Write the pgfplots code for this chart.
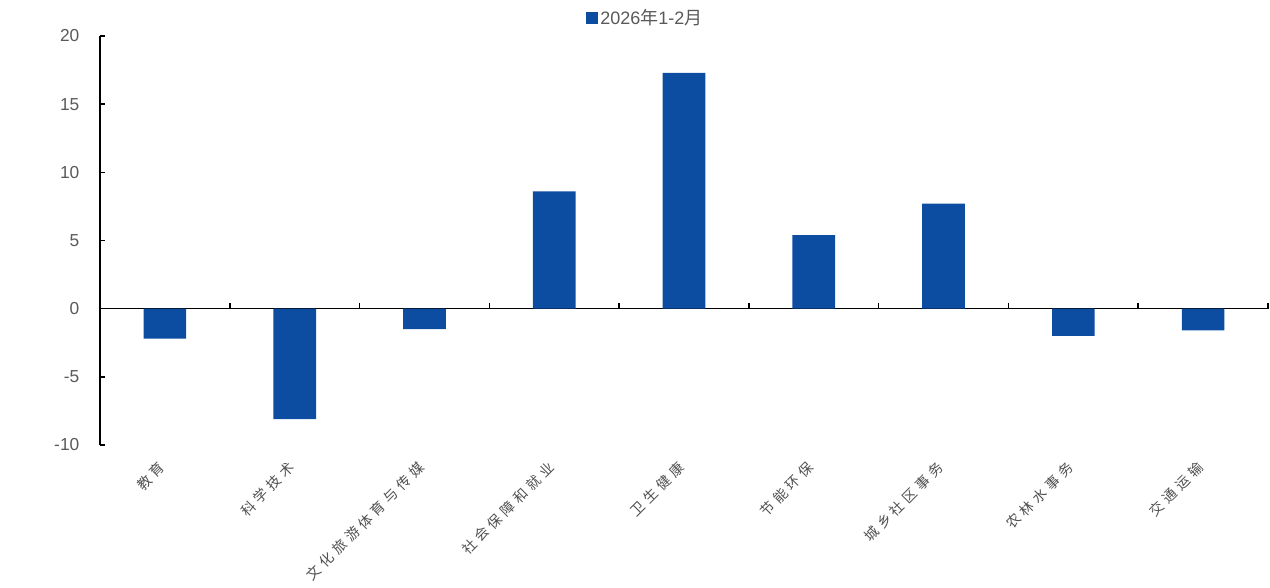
\documentclass[border=0pt]{standalone}
\usepackage{pgfplots}
\pgfplotsset{compat=1.18}
\usepackage{fontspec}
\setmainfont{Liberation Sans}
\newfontfamily\cjk{Noto Sans CJK SC}
\newfontfamily\cjkspaced[LetterSpace=30]{Noto Sans CJK SC}
\definecolor{barblue}{HTML}{0C4DA2}
\definecolor{ticktext}{HTML}{595959}
\definecolor{cattext}{HTML}{505050}

\begin{document}
\begin{tikzpicture}
\begin{axis}[
  at={(0pt,0pt)}, anchor=south west,
  scale only axis, width=876pt, height=306.75pt,
  xmin=-0.5, xmax=8.5, ymin=-10, ymax=20,
  axis y line=left, axis x line=middle,
  axis line style={-, black, line width=1.1pt},
  ybar, bar width=32pt,
  ytick={-10,-5,0,5,10,15,20},
  yticklabels={-10,-5,0,5,10,15,20},
  xtick={0,...,8},
  xticklabels={教育,科学技术,文化旅游体育与传媒,社会保障和就业,卫生健康,节能环保,城乡社区事务,农林水事务,交通运输},
  minor xtick={0.5,1.5,2.5,3.5,4.5,5.5,6.5,7.5,8.5},
  every major x tick/.style={draw=none},
  tick align=inside,
  major tick length=4pt, minor tick length=4pt,
  tick style={black, line width=1.1pt},
  hide obscured y ticks=false,
  hide obscured x ticks=false,
  yticklabel style={font=\fontsize{13pt}{13pt}\selectfont, text=ticktext, xshift=-12pt},
  xticklabel style={font=\cjkspaced\fontsize{10.5pt}{10.5pt}\selectfont, text=cattext,
    yshift=-117pt, xshift=-2pt, rotate=45, anchor=east, inner sep=0pt},
  legend style={at={(axis description cs:0.467,1.044)}, anchor=center,
    draw=none, fill=none, font=\fontsize{13.5pt}{13.5pt}\selectfont, text=ticktext,
    inner sep=0pt, legend cell align=left},
  legend image code/.code={\fill[barblue] (0pt,-4.5pt) rectangle (9pt,4.5pt);},
]
\addplot[fill=barblue, draw=none] coordinates {
  (0,-2.2) (1,-8.1) (2,-1.5) (3,8.6) (4,17.3) (5,5.4) (6,7.7) (7,-2.0) (8,-1.6)
};
\addlegendentry{2026{\cjk 年}1-2{\cjk 月}}
\node[text=ticktext, font=\fontsize{13pt}{13pt}\selectfont]
  at (axis description cs:-0.072,0.452) {\%};
\end{axis}
\path (-75pt,-107.25pt) rectangle (877.5pt,333.75pt);
\end{tikzpicture}
\end{document}
